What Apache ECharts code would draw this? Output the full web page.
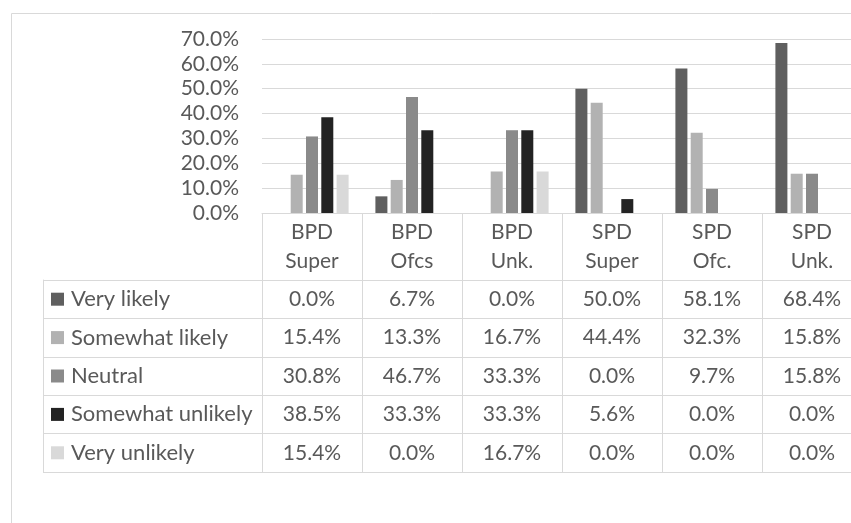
<!DOCTYPE html>
<html>
<head>
<meta charset="utf-8">
<script src="https://cdn.jsdelivr.net/npm/echarts@6/dist/echarts.min.js"></script>
<style>
  html, body { margin: 0; padding: 0; background: #ffffff; }
  #chart { width: 851px; height: 523px; }
</style>
</head>
<body>
<div id="chart"></div>
<script>
// Survey responses by agency group (percent of respondents)
const categories = ['BPD Super', 'BPD Ofcs', 'BPD Unk.', 'SPD Super', 'SPD Ofc.', 'SPD Unk.'];
const seriesNames = ['Very likely', 'Somewhat likely', 'Neutral', 'Somewhat unlikely', 'Very unlikely'];

const veryLikely       = [0.0, 6.7, 0.0, 50.0, 58.1, 68.4];
const somewhatLikely   = [15.4, 13.3, 16.7, 44.4, 32.3, 15.8];
const neutral          = [30.8, 46.7, 33.3, 0.0, 9.7, 15.8];
const somewhatUnlikely = [38.5, 33.3, 33.3, 5.6, 0.0, 0.0];
const veryUnlikely     = [15.4, 0.0, 16.7, 0.0, 0.0, 0.0];

const yMin = 0, yMax = 70, yStep = 10;

const seriesValues = [veryLikely, somewhatLikely, neutral, somewhatUnlikely, veryUnlikely];
const palette = ['#5f5f5f', '#b2b2b2', '#8a8a8a', '#232323', '#d9d9d9'];

const FONT = 'Lato, "Open Sans", sans-serif';
const TEXT = '#595959';
const LINE = '#d9d9d9';
const FS_NUM = 21;   // numeric labels
const FS_TXT = 22;   // series names
const FS_CAT = 21;   // column headers
const fmtPct = v => v.toFixed(1) + '%';

// data table cells: [column, row, value]
const cellData = [];
seriesValues.forEach((vals, r) => vals.forEach((v, c) => cellData.push([c, r, v])));

const legendRich = { t: { fontSize: FS_TXT, fontFamily: FONT, color: TEXT, padding: [0, 0, 0, 7] } };
palette.forEach((c, i) => { legendRich['s' + i] = { width: 13, height: 13, backgroundColor: c }; });

const chart = echarts.init(document.getElementById('chart'), null, { renderer: 'canvas' });

const barSeries = seriesNames.map((name, i) => ({
  name,
  type: 'bar',
  xAxisIndex: 0,
  yAxisIndex: 0,
  data: seriesValues[i],
  barWidth: 12,
  barGap: '27.5%',
  itemStyle: { color: palette[i] },
  silent: true
}));

chart.setOption({
  animation: false,
  textStyle: { fontFamily: FONT },
  graphic: [{
    type: 'rect',
    z: -10,
    shape: { x: 11.5, y: 13.5, width: 1000, height: 1000 },
    style: { fill: 'none', stroke: LINE, lineWidth: 1 }
  }],
  // the plot runs past the right edge of the canvas
  grid: [
    { left: 262, width: 600, top: 39, bottom: 310, outerBoundsMode: 'none', containLabel: false },
    { left: 262, width: 600, top: 280, height: 192, outerBoundsMode: 'none', containLabel: false }
  ],
  xAxis: [
    {
      type: 'category',
      gridIndex: 0,
      data: categories,
      axisLine: { show: true, lineStyle: { color: LINE, width: 1 } },
      axisTick: { show: true, interval: 0, length: 259, lineStyle: { color: LINE, width: 1 } },
      axisLabel: {
        interval: 0, margin: 5, lineHeight: 28.5,
        fontSize: FS_CAT, fontFamily: FONT, color: TEXT,
        formatter: v => v.replace(' ', '\n')
      },
      splitLine: { show: false }
    },
    {
      type: 'category',
      gridIndex: 1,
      data: categories,
      axisLine: { show: false },
      axisTick: { show: false },
      axisLabel: { show: false },
      splitLine: { show: false }
    }
  ],
  yAxis: [
    {
      type: 'value',
      gridIndex: 0,
      min: yMin, max: yMax, interval: yStep,
      axisLine: { show: false },
      axisTick: { show: false },
      axisLabel: { margin: 23, fontSize: FS_NUM, fontFamily: FONT, color: TEXT, formatter: v => fmtPct(v) },
      splitLine: { show: true, lineStyle: { color: LINE, width: 1 } }
    },
    {
      type: 'category',
      gridIndex: 1,
      inverse: true,
      data: seriesNames,
      axisLine: { show: true, lineStyle: { color: LINE, width: 1 } },
      axisTick: { show: true, interval: 0, length: 219, lineStyle: { color: LINE, width: 1 } },
      axisLabel: {
        interval: 0, align: 'left', margin: 211,
        formatter: (name, idx) => '{s' + idx + '|}{t|' + name + '}',
        rich: legendRich
      },
      splitLine: { show: true, interval: 0, lineStyle: { color: LINE, width: 1 } }
    },
    {
      type: 'category',
      gridIndex: 1,
      position: 'left',
      offset: 219,
      inverse: true,
      data: seriesNames,
      axisLine: { show: true, lineStyle: { color: LINE, width: 1 } },
      axisTick: { show: false },
      axisLabel: { show: false },
      splitLine: { show: false }
    }
  ],
  series: barSeries.concat([{
    type: 'custom',
    xAxisIndex: 1,
    yAxisIndex: 1,
    silent: true,
    data: cellData,
    encode: { x: 0, y: 1 },
    renderItem: (params, api) => {
      const p = api.coord([api.value(0), api.value(1)]);
      return {
        type: 'text',
        x: p[0],
        y: p[1],
        style: {
          text: fmtPct(api.value(2)),
          fontSize: FS_NUM,
          fontFamily: FONT,
          fill: TEXT,
          align: 'center',
          verticalAlign: 'middle'
        }
      };
    }
  }])
});
</script>
</body>
</html>
